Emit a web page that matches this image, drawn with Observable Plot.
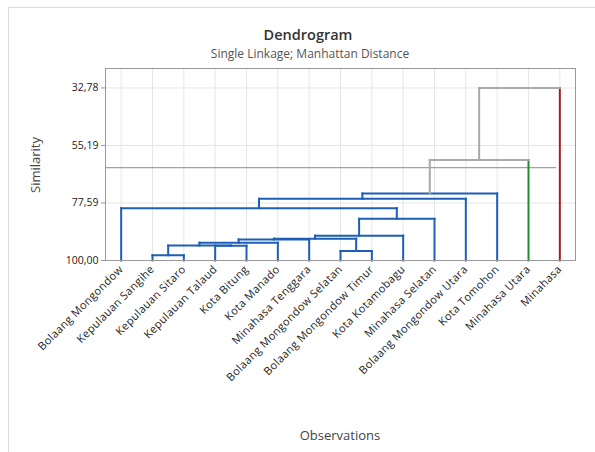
<!DOCTYPE html>
<html>
<head>
<meta charset="utf-8">
<script src="https://cdn.jsdelivr.net/npm/d3@7"></script>
<script src="https://cdn.jsdelivr.net/npm/@observablehq/plot@0.6"></script>
<style>
  html, body { margin: 0; padding: 0; background: #fff; }
  #wrap { position: relative; width: 595px; height: 452px; overflow: hidden; font-family: "Open Sans", "Noto Sans", sans-serif; }
  #border { position: absolute; left: 8px; top: 7px; width: 590px; height: 450px; border: 1px solid #dcdcdc; box-sizing: border-box; }
  #title { position: absolute; left: 0; width: 616px; top: 25px; text-align: center; font-size: 14.5px; font-weight: 600; color: #333; }
  #subtitle { position: absolute; left: 0; width: 620px; top: 45px; text-align: center; font-size: 12px; color: #555; }
  #ylab { position: absolute; left: 35px; top: 165px; transform: translate(-50%, -50%) rotate(-90deg); font-size: 13px; color: #444; white-space: nowrap; }
  #xlab { position: absolute; left: 0; width: 680px; top: 426px; text-align: center; font-size: 13px; color: #444; }
  #chart { position: absolute; left: 0; top: 0; }
  #chart svg g[aria-label="x-axis tick label"] text { letter-spacing: 0.35px; }
</style>
</head>
<body>
<div id="wrap">
  <div id="border"></div>
  <div id="chart"></div>
  <div id="title">Dendrogram</div>
  <div id="subtitle">Single Linkage; Manhattan Distance</div>
  <div id="ylab">Similarity</div>
  <div id="xlab">Observations</div>
</div>
<script>
// Leaves in dendrogram order
const leaves = [
  "Bolaang Mongondow", "Kepulauan Sangihe", "Kepulauan Sitaro", "Kepulauan Talaud",
  "Kota Bitung", "Kota Manado", "Minahasa Tenggara", "Bolaang Mongondow Selatan",
  "Bolaang Mongondow Timur", "Kota Kotamobagu", "Minahasa Selatan",
  "Bolaang Mongondow Utara", "Kota Tomohon", "Minahasa Utara", "Minahasa"
];
// Merge steps: ids 0..14 are leaves, merge k creates id 15+k
const mergeLeft  = [1, 3, 15, 17, 18, 7, 19, 21, 22, 0,  24, 25, 26, 27];
const mergeRight = [2, 4, 16, 5,  6,  8, 20, 9,  10, 23, 11, 12, 13, 14];
const mergeSimilarity = [97.97, 94.22, 94.18, 93.04, 91.79, 96.29, 91.48, 90.31, 83.78, 79.60, 75.97, 73.90, 60.84, 32.78];
const cutSimilarity = 63.85;
const yTicks = [32.78, 55.19, 77.59, 100];
const clusterColors = ["#1d5fb6", "#1f8a2e", "#a32020"];
const aboveCutColor = "#a9a9a9";

// Build positions
const n = leaves.length;
const xPos = leaves.map((_, i) => i);
const hgt = leaves.map(() => 100);
mergeLeft.forEach((l, k) => {
  xPos.push((xPos[l] + xPos[mergeRight[k]]) / 2);
  hgt.push(mergeSimilarity[k]);
});
const nodeColor = new Array(xPos.length).fill(null);
function paint(id, c) {
  nodeColor[id] = c;
  if (id >= n) { paint(mergeLeft[id - n], c); paint(mergeRight[id - n], c); }
}
const parentOf = {};
mergeLeft.forEach((l, k) => { parentOf[l] = n + k; parentOf[mergeRight[k]] = n + k; });
const roots = [];
for (let id = 0; id < xPos.length; id++) {
  const p = parentOf[id];
  if (hgt[id] >= cutSimilarity && (p === undefined || hgt[p] < cutSimilarity)) roots.push(id);
}
roots.sort((a, b) => xPos[a] - xPos[b]);
roots.forEach((r, i) => paint(r, clusterColors[i % clusterColors.length]));

const segs = [];
mergeLeft.forEach((l, k) => {
  const id = n + k, r = mergeRight[k];
  const s = mergeSimilarity[k];
  const above = s < cutSimilarity;
  for (const c of [l, r]) {
    const col = (!above || c < n) ? nodeColor[c] : aboveCutColor;
    segs.push({x1: xPos[c], y1: hgt[c], x2: xPos[c], y2: s, color: col});
  }
  segs.push({x1: xPos[l], y1: s, x2: xPos[r], y2: s, color: above ? aboveCutColor : nodeColor[id]});
});
const fmt = d => d.toFixed(2).replace(".", ",");

const chart = Plot.plot({
  width: 595,
  height: 452,
  marginLeft: 105,
  marginRight: 20,
  marginTop: 68,
  marginBottom: 192,
  style: { fontFamily: "'Open Sans', 'Noto Sans', sans-serif", fontSize: "10px", color: "#222", background: "transparent" },
  x: { type: "linear", domain: [-0.5, n - 0.5] },
  y: { type: "linear", domain: [100, 25.2] },
  marks: [
    Plot.gridX(xPos.slice(0, n), { stroke: "#e6e6e6", strokeOpacity: 1 }),
    Plot.gridY(yTicks, { stroke: "#e6e6e6", strokeOpacity: 1 }),
    Plot.ruleY([cutSimilarity], { x1: -0.5, x2: 13.9, stroke: "#8c8c8c", strokeWidth: 1 }),
    Plot.link(segs, { x1: "x1", y1: "y1", x2: "x2", y2: "y2", stroke: "color", strokeWidth: 2, strokeLinecap: "square" }),
    Plot.frame({ stroke: "#999" }),
    Plot.axisY(yTicks, { tickFormat: fmt, tickSize: 4, tickPadding: 3, label: null, fontSize: 10.5, stroke: "#999" }),
    Plot.axisX(xPos.slice(0, n), { tickFormat: i => leaves[i], tickRotate: -45, tickSize: 0, tickPadding: 7, label: null, fontSize: 11 })
  ]
});
document.getElementById("chart").appendChild(chart);
</script>
</body>
</html>
